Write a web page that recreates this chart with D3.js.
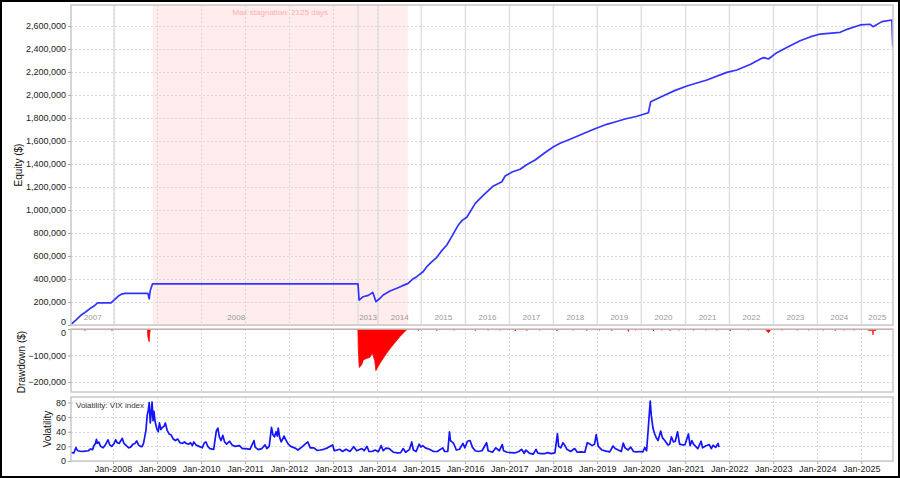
<!DOCTYPE html>
<html><head><meta charset="utf-8">
<script src="https://cdn.jsdelivr.net/npm/d3@7"></script>
<style>
body{margin:0;background:#fff}
svg{display:block}
text{font-family:"Liberation Sans",Arial,sans-serif}
</style>
</head><body>
<svg id="c" width="900" height="478"></svg>
<script>
// ---------- DATA ----------
const equityData = [
 ["2007-01-17", 5000], ["2007-03-01", 45000], ["2007-04-10", 85000], ["2007-05-21", 115000],
 ["2007-06-26", 145000], ["2007-07-27", 165000], ["2007-08-26", 192000], ["2007-12-15", 192000],
 ["2008-02-14", 252000], ["2008-03-10", 268000], ["2008-04-10", 275000], ["2008-10-16", 275000],
 ["2008-10-27", 228000], ["2008-11-05", 300000], ["2008-11-23", 357000], ["2013-07-26", 357000],
 ["2013-08-04", 217000], ["2013-09-06", 246000], ["2013-10-20", 258000], ["2013-11-25", 284000],
 ["2013-12-22", 203000], ["2014-01-20", 228000], ["2014-02-20", 261000], ["2014-04-18", 295000],
 ["2014-06-13", 319000], ["2014-07-27", 340000], ["2014-09-15", 362000], ["2014-10-18", 395000],
 ["2014-11-25", 420000], ["2015-01-17", 463000], ["2015-02-17", 507000], ["2015-03-25", 545000],
 ["2015-05-11", 589000], ["2015-06-16", 640000], ["2015-08-02", 696000], ["2015-09-12", 768000],
 ["2015-10-10", 820000], ["2015-11-06", 870000], ["2015-12-07", 910000], ["2016-01-15", 937000],
 ["2016-03-25", 1058000], ["2016-06-01", 1130000], ["2016-08-23", 1209000], ["2016-11-01", 1246000],
 ["2016-11-28", 1296000], ["2017-01-25", 1330000], ["2017-04-01", 1354000], ["2017-05-29", 1395000],
 ["2017-08-04", 1435000], ["2017-10-26", 1500000], ["2018-01-01", 1548000], ["2018-02-27", 1580000],
 ["2018-05-21", 1615000], ["2018-08-12", 1652000], ["2018-11-28", 1700000], ["2019-03-21", 1745000],
 ["2019-05-29", 1765000], ["2019-08-20", 1791000], ["2019-11-28", 1815000], ["2020-03-01", 1846000],
 ["2020-03-20", 1942000], ["2020-07-04", 1994000], ["2020-10-09", 2040000], ["2021-01-15", 2078000],
 ["2021-06-29", 2130000], ["2021-12-12", 2197000], ["2022-03-05", 2217000], ["2022-06-23", 2265000],
 ["2022-09-28", 2319000], ["2022-10-17", 2325000], ["2022-11-22", 2313000], ["2023-01-31", 2368000],
 ["2023-05-05", 2420000], ["2023-08-12", 2472000], ["2023-11-03", 2505000], ["2024-01-25", 2530000],
 ["2024-07-10", 2545000], ["2024-09-04", 2571000], ["2024-12-23", 2609000], ["2025-03-16", 2615000],
 ["2025-04-08", 2594000], ["2025-06-21", 2638000], ["2025-09-12", 2652000], ["2025-09-19", 2421000]
];

const drawdownData = [
 ["2007-01-17", 0],
 ["2007-05-09", 0], ["2007-05-13", -6000], ["2007-05-17", 0],
 ["2007-12-19", 0], ["2007-12-23", -6000], ["2007-12-27", 0],
 ["2008-10-13", 0], ["2008-10-16", -30000], ["2008-10-27", -48000], ["2008-10-30", -20000], ["2008-11-06", 0],
 ["2013-07-25", 0], ["2013-07-28", -70000], ["2013-08-05", -145000], ["2013-08-25", -136000],
 ["2013-09-07", -117000], ["2013-10-05", -111000], ["2013-11-01", -107000], ["2013-11-23", -92000],
 ["2013-12-12", -120000], ["2013-12-21", -157000], ["2014-01-23", -130000], ["2014-02-20", -111000],
 ["2014-03-20", -92000], ["2014-04-30", -67000], ["2014-06-11", -44000], ["2014-07-08", -29000],
 ["2014-08-05", -16000], ["2014-09-08", 0],
 ["2014-12-05", 0], ["2014-12-09", -6000], ["2014-12-13", 0],
 ["2015-05-07", 0], ["2015-05-11", -6000], ["2015-05-15", 0],
 ["2015-09-27", 0], ["2015-10-01", -5000], ["2015-10-05", 0],
 ["2016-03-21", 0], ["2016-03-25", -6000], ["2016-03-29", 0],
 ["2016-07-06", 0], ["2016-07-10", -5000], ["2016-07-14", 0],
 ["2016-10-11", 0], ["2016-10-15", -5000], ["2016-10-19", 0],
 ["2017-02-16", 0], ["2017-02-20", -7000], ["2017-02-24", 0],
 ["2017-05-23", 0], ["2017-05-27", -6000], ["2017-05-31", 0],
 ["2017-09-06", 0], ["2017-09-10", -5000], ["2017-09-14", 0],
 ["2018-01-28", 0], ["2018-02-01", -7000], ["2018-02-05", 0],
 ["2018-06-11", 0], ["2018-06-15", -5000], ["2018-06-19", 0],
 ["2018-10-03", 0], ["2018-10-07", -6000], ["2018-10-11", 0],
 ["2019-01-16", 0], ["2019-01-20", -5000], ["2019-01-24", 0],
 ["2019-04-28", 0], ["2019-05-02", -6000], ["2019-05-06", 0],
 ["2019-09-10", 0], ["2019-09-17", -9000], ["2019-09-24", 0],
 ["2019-11-11", 0], ["2019-11-15", -5000], ["2019-11-19", 0],
 ["2020-04-08", 0], ["2020-04-12", -7000], ["2020-04-16", 0],
 ["2020-06-16", 0], ["2020-06-20", -5000], ["2020-06-24", 0],
 ["2020-08-24", 0], ["2020-08-28", -6000], ["2020-09-01", 0],
 ["2020-11-06", 0], ["2020-11-10", -5000], ["2020-11-14", 0],
 ["2021-03-06", 0], ["2021-03-10", -5000], ["2021-03-14", 0],
 ["2021-06-16", 0], ["2021-06-20", -5000], ["2021-06-24", 0],
 ["2021-09-16", 0], ["2021-09-20", -5000], ["2021-09-24", 0],
 ["2022-01-05", 0], ["2022-01-09", -7000], ["2022-01-13", 0],
 ["2022-06-06", 0], ["2022-06-10", -5000], ["2022-06-14", 0],
 ["2022-10-25", 0], ["2022-11-05", -6000], ["2022-11-22", -14000], ["2022-12-05", -6000], ["2022-12-15", 0],
 ["2023-03-11", 0], ["2023-03-15", -5000], ["2023-03-19", 0],
 ["2023-07-16", 0], ["2023-07-20", -5000], ["2023-07-24", 0],
 ["2023-10-16", 0], ["2023-10-20", -5000], ["2023-10-24", 0],
 ["2024-02-16", 0], ["2024-02-20", -5000], ["2024-02-24", 0],
 ["2024-05-25", 0], ["2024-05-29", -6000], ["2024-06-02", 0],
 ["2024-08-06", 0], ["2024-08-10", -5000], ["2024-08-14", 0],
 ["2024-10-28", 0], ["2024-11-01", -5000], ["2024-11-05", 0],
 ["2025-02-25", 0], ["2025-02-28", -5000], ["2025-04-06", -5000], ["2025-04-08", -22000],
 ["2025-04-10", -5000], ["2025-05-03", -5000], ["2025-05-06", 0],
 ["2025-09-21", 0]
];

const vixData = [
 ["2007-01-17",11.5],["2007-02-10",11],["2007-02-27",18.5],["2007-03-05",16],["2007-03-15",14],
 ["2007-04-15",13],["2007-05-15",13.5],["2007-06-10",14],["2007-06-28",16.5],["2007-07-15",15.5],
 ["2007-07-26",21],["2007-08-08",24],["2007-08-16",29.5],["2007-08-24",24],["2007-09-05",26],
 ["2007-09-20",20],["2007-10-10",18],["2007-10-25",21],["2007-11-08",25],["2007-11-20",29],
 ["2007-12-05",22],["2007-12-20",20],["2008-01-10",24],["2008-01-22",29],["2008-02-05",25],
 ["2008-02-20",24],["2008-03-10",29],["2008-03-17",31],["2008-04-01",24],["2008-04-20",21],
 ["2008-05-10",18],["2008-05-25",19],["2008-06-15",23],["2008-06-30",24],["2008-07-15",27.5],
 ["2008-07-30",22],["2008-08-15",20],["2008-08-28",19.5],["2008-09-10",24],["2008-09-20",33],
 ["2008-09-30",42],["2008-10-10",62],["2008-10-20",70],["2008-10-27",80],["2008-11-05",52],
 ["2008-11-20",80.5],["2008-11-28",55],["2008-12-05",68],["2008-12-15",54],["2008-12-29",44],
 ["2009-01-10",40],["2009-01-20",52],["2009-02-01",43],["2009-02-15",46],["2009-03-01",48],
 ["2009-03-10",52],["2009-03-25",42],["2009-04-10",37],["2009-04-25",36],["2009-05-15",30],
 ["2009-06-01",28],["2009-06-20",30],["2009-07-10",25],["2009-07-30",24],["2009-08-15",26],
 ["2009-09-01",24],["2009-09-20",23],["2009-10-05",25],["2009-10-20",21],["2009-11-01",26],
 ["2009-11-20",22],["2009-12-15",20],["2010-01-10",18],["2010-01-28",25],["2010-02-10",26],
 ["2010-02-25",20],["2010-03-15",17],["2010-04-15",16],["2010-05-07",41],["2010-05-20",45],
 ["2010-06-01",33],["2010-06-15",28],["2010-06-30",35],["2010-07-15",26],["2010-08-01",23],
 ["2010-08-25",27],["2010-09-15",22],["2010-10-10",20],["2010-11-15",21],["2010-12-10",17],
 ["2011-01-10",17],["2011-02-10",16],["2011-03-16",28],["2011-03-25",19],["2011-04-20",15.5],
 ["2011-05-20",17],["2011-06-15",22],["2011-07-01",17],["2011-07-20",20],["2011-08-08",46],
 ["2011-08-20",36],["2011-09-01",33],["2011-09-15",40],["2011-09-25",34],["2011-10-03",45],
 ["2011-10-15",32],["2011-10-28",26],["2011-11-20",34],["2011-12-05",29],["2011-12-25",23],
 ["2012-01-15",20],["2012-02-15",18],["2012-03-15",15],["2012-04-15",19],["2012-05-20",24],
 ["2012-06-05",26],["2012-06-25",18],["2012-07-25",18],["2012-08-20",14.5],["2012-09-15",15],
 ["2012-10-15",16],["2012-11-15",18],["2012-12-28",22],["2013-01-10",14],["2013-02-25",16],
 ["2013-03-20",13],["2013-04-18",16],["2013-05-20",13],["2013-06-20",19.5],["2013-07-15",14],
 ["2013-08-28",17],["2013-09-15",14],["2013-10-08",20],["2013-10-25",13],["2013-11-20",13],
 ["2013-12-15",15],["2014-01-10",12.5],["2014-02-03",21],["2014-02-20",14],["2014-03-14",17.5],
 ["2014-04-11",17],["2014-05-15",12],["2014-06-20",11],["2014-07-15",11.5],["2014-08-05",17],
 ["2014-08-25",12],["2014-09-25",15.5],["2014-10-15",26],["2014-10-28",15],["2014-11-20",13],
 ["2014-12-16",23],["2014-12-30",19],["2015-01-15",21],["2015-02-05",18],["2015-03-10",16],
 ["2015-04-15",13],["2015-05-15",13],["2015-06-29",18],["2015-07-15",13],["2015-08-10",13],
 ["2015-08-24",40],["2015-09-01",28],["2015-09-28",24],["2015-10-20",15],["2015-11-15",16],
 ["2015-12-14",24],["2015-12-30",18],["2016-01-20",27],["2016-02-11",28],["2016-03-01",19],
 ["2016-03-25",14],["2016-04-20",13],["2016-05-20",14],["2016-06-27",25],["2016-07-10",14],
 ["2016-08-15",12],["2016-09-12",18],["2016-10-10",14],["2016-11-04",22.5],["2016-11-15",14],
 ["2016-12-15",12],["2017-01-15",11.5],["2017-02-15",11],["2017-03-22",13],["2017-04-13",16],
 ["2017-05-05",10.5],["2017-05-18",15],["2017-06-20",10.5],["2017-07-20",9.5],["2017-08-11",16],
 ["2017-08-25",11],["2017-09-20",10],["2017-10-20",10],["2017-11-15",11.5],["2017-12-15",10],
 ["2018-01-15",11],["2018-02-05",37.5],["2018-02-15",20],["2018-03-05",18],["2018-03-23",25],
 ["2018-04-05",22],["2018-04-25",16],["2018-05-25",13],["2018-06-28",17],["2018-07-20",12],
 ["2018-08-20",12.5],["2018-09-20",12],["2018-10-11",25],["2018-10-25",24],["2018-11-20",21],
 ["2018-12-10",23],["2018-12-24",36],["2019-01-10",20],["2019-02-10",15],["2019-03-15",13.5],
 ["2019-04-15",12.5],["2019-05-13",20.5],["2019-05-30",17],["2019-06-25",15],["2019-07-20",13],
 ["2019-08-05",24.5],["2019-08-20",18],["2019-09-15",15],["2019-10-05",19],["2019-10-30",13],
 ["2019-11-20",12.5],["2019-12-20",13],["2020-01-15",12.5],["2020-01-31",18.5],["2020-02-15",14],
 ["2020-02-27",40],["2020-03-16",82],["2020-03-25",62],["2020-04-08",45],["2020-04-20",38],
 ["2020-05-05",32],["2020-05-20",28],["2020-06-11",41],["2020-06-25",32],["2020-07-15",28],
 ["2020-08-10",22],["2020-08-25",23],["2020-09-08",33],["2020-09-25",26],["2020-10-10",27],
 ["2020-10-29",40],["2020-11-15",23],["2020-12-10",22],["2020-12-30",22.5],["2021-01-27",37],
 ["2021-02-10",21],["2021-02-25",28],["2021-03-10",23],["2021-04-15",17],["2021-05-12",27],
 ["2021-05-25",18],["2021-06-18",20.5],["2021-07-19",22.5],["2021-08-05",17],["2021-08-19",21.5],
 ["2021-09-10",18.5],["2021-09-30",24],["2021-10-08",19]
];

// first trading day of each year shown on the equity panel
const yearStarts = [
 ["2007","2007-01-17"],["2008","2008-01-12"],["2013","2013-07-26"],["2014","2014-01-09"],
 ["2015","2015-01-02"],["2016","2016-01-04"],["2017","2017-01-03"],["2018","2018-01-02"],
 ["2019","2019-01-02"],["2020","2020-01-02"],["2021","2021-01-04"],["2022","2022-01-03"],
 ["2023","2023-01-03"],["2024","2024-01-02"],["2025","2025-01-02"]
];

const stagnation = {start:"2008-11-26", end:"2014-09-12", label:"Max stagnation: 2125 days"};
const equityTicks = [0,200000,400000,600000,800000,1000000,1200000,1400000,1600000,1800000,2000000,2200000,2400000,2600000];
const drawdownTicks = [0,-100000,-200000];
const vixTicks = [0,20,40,60,80];
const dateRange = ["2007-01-17","2025-09-21"];

// ---------- CHART ----------
const parse = d3.timeParse("%Y-%m-%d");
const svg = d3.select("#c");
const L = 71, R = 893;
const P1 = {top:5, bottom:325}, P2 = {top:329, bottom:392}, P3 = {top:397, bottom:461};

const x = d3.scaleTime().domain(dateRange.map(parse)).range([L, R]);
const yE = d3.scaleLinear().domain([0, 2782600]).range([P1.bottom, P1.top]);
const yD = d3.scaleLinear().domain([-238000, 0]).range([P2.bottom, P2.top]);
const yV = d3.scaleLinear().domain([0, 87.5]).range([P3.bottom, P3.top]);

svg.append("rect").attr("width",900).attr("height",478).attr("fill","#fff");

const defs = svg.append("defs");
[["c1",P1],["c2",P2],["c3",P3]].forEach(([id,p])=>{
  defs.append("clipPath").attr("id",id).append("rect")
    .attr("x",L).attr("y",p.top).attr("width",R-L).attr("height",p.bottom-p.top);
});

const fmt = d3.format(",");
const GRID = "#d9d9d9";
const years = x.ticks(d3.timeYear.every(1));

function panelGrid(p, yScale, ticks){
  const g = svg.append("g");
  g.selectAll("line.h").data(ticks).join("line")
    .attr("x1",L).attr("x2",R).attr("y1",d=>Math.round(yScale(d))+0.5).attr("y2",d=>Math.round(yScale(d))+0.5)
    .attr("stroke",GRID).attr("stroke-dasharray","2,2");
  g.selectAll("line.v").data(years).join("line")
    .attr("y1",p.top).attr("y2",p.bottom).attr("x1",d=>Math.round(x(d))+0.5).attr("x2",d=>Math.round(x(d))+0.5)
    .attr("stroke",GRID).attr("stroke-dasharray","2,2");
}
function yLabels(yScale, ticks, format, shift){
  const ax = d3.axisLeft(yScale).tickValues(ticks).tickSize(3).tickPadding(2).tickFormat(format);
  const g = svg.append("g").attr("transform",`translate(${L},0)`).call(ax);
  g.select(".domain").remove();
  g.selectAll(".tick line").attr("stroke","#aaa");
  g.selectAll("text").attr("font-size",9).attr("fill","#222").attr("font-family",'"Liberation Sans",Arial,sans-serif');
  if (shift) g.selectAll(".tick").filter(d=>d===0).select("text").attr("dy", shift);
}
function border(p){
  svg.append("rect").attr("x",L).attr("y",p.top).attr("width",R-L).attr("height",p.bottom-p.top)
    .attr("fill","none").attr("stroke","#c8c8c8").attr("stroke-width",1.5);
}

// ---- Panel 1: equity ----
svg.append("rect")
  .attr("x",x(parse(stagnation.start))).attr("y",P1.top)
  .attr("width",x(parse(stagnation.end))-x(parse(stagnation.start))).attr("height",P1.bottom-P1.top)
  .attr("fill","#ffecec");
panelGrid(P1, yE, equityTicks);

const ys = yearStarts.map(d=>({label:d[0], date:parse(d[1])}));
svg.append("g").selectAll("line").data(ys.slice(1)).join("line")
  .attr("x1",d=>x(d.date)).attr("x2",d=>x(d.date)).attr("y1",P1.top).attr("y2",P1.bottom)
  .attr("stroke","#e0e0e0").attr("stroke-width",1.5);
svg.append("g").selectAll("text").data(ys).join("text")
  .attr("x",(d,i)=>{const a=i===0?L:x(d.date); const b=i<ys.length-1?x(ys[i+1].date):R; return (a+b)/2;})
  .attr("y",320).attr("text-anchor","middle").attr("font-size",8).attr("fill","#9a9a9a")
  .text(d=>d.label);

svg.append("text").attr("x",(x(parse(stagnation.start))+x(parse(stagnation.end)))/2).attr("y",15)
  .attr("text-anchor","middle").attr("font-size",8).attr("fill","#ffb0b0").text(stagnation.label);

svg.append("path").datum(equityData).attr("clip-path","url(#c1)")
  .attr("d", d3.line().x(d=>x(parse(d[0]))).y(d=>yE(d[1])))
  .attr("fill","none").attr("stroke","#3333ff").attr("stroke-width",1.7).attr("stroke-linejoin","round");
border(P1);
yLabels(yE, equityTicks, fmt, "-0.05em");

// ---- Panel 2: drawdown ----
panelGrid(P2, yD, drawdownTicks);
svg.append("path").datum(drawdownData).attr("clip-path","url(#c2)")
  .attr("d", d3.area().x(d=>x(parse(d[0]))).y0(yD(0)).y1(d=>yD(d[1])))
  .attr("fill","#ff0000").attr("stroke","#ff0000").attr("stroke-width",0.8);
border(P2);
yLabels(yD, drawdownTicks, fmt, "0.75em");

// ---- Panel 3: VIX ----
panelGrid(P3, yV, vixTicks);
svg.append("path").datum(vixData).attr("clip-path","url(#c3)")
  .attr("d", d3.line().x(d=>x(parse(d[0]))).y(d=>yV(d[1])))
  .attr("fill","none").attr("stroke","#1414ff").attr("stroke-width",1.7).attr("stroke-linejoin","round");
border(P3);
yLabels(yV, vixTicks, d3.format("d"));
svg.append("text").attr("x",76).attr("y",408).attr("font-size",8).attr("fill","#333").text("Volatility: VIX index");

const xa = d3.axisBottom(x).ticks(d3.timeYear.every(1)).tickSize(3).tickPadding(2).tickFormat(d3.timeFormat("Jan-%Y"));
const gx = svg.append("g").attr("transform",`translate(0,${P3.bottom})`).call(xa);
gx.select(".domain").remove();
gx.selectAll(".tick line").attr("stroke","#aaa");
gx.selectAll("text").attr("font-size",9).attr("fill","#222").attr("font-family",'"Liberation Sans",Arial,sans-serif');

// axis titles
function vtitle(t, cx, cy){
  svg.append("text").attr("transform",`translate(${cx},${cy}) rotate(-90)`)
    .attr("text-anchor","middle").attr("dominant-baseline","central")
    .attr("font-size",10).attr("fill","#111").text(t);
}
vtitle("Equity ($)", 18, 165);
vtitle("Drawdown ($)", 21, 362);
vtitle("Volatility", 47, 429);

// outer frame
svg.append("rect").attr("x",1).attr("y",1).attr("width",898).attr("height",476)
  .attr("fill","none").attr("stroke","#000").attr("stroke-width",2);
</script>
</body></html>
